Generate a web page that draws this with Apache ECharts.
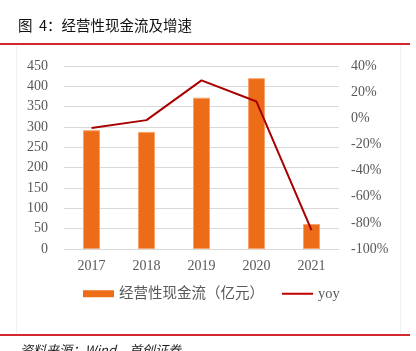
<!DOCTYPE html>
<html>
<head>
<meta charset="utf-8">
<script src="https://cdn.jsdelivr.net/npm/echarts@6/dist/echarts.min.js"></script>
<style>
html, body { margin: 0; padding: 0; background: #fff; }
#chart { width: 416px; height: 351px; }
</style>
</head>
<body>
<div id="chart"></div>
<script>
// 经营性现金流及增速
var years = ['2017', '2018', '2019', '2020', '2021'];
var cashFlow = [292, 288, 372, 420, 61.5];
var yoy = [-0.074, -0.014, 0.29, 0.128, -0.855];
var seriesNames = ['经营性现金流（亿元）', 'yoy'];

var labelFont = {
	color: '#595959',
	fontSize: 14,
	fontFamily: 'Liberation Serif'
};

var chart = echarts.init(document.getElementById('chart'));
chart.setOption({
	animation: false,
	graphic: [{
		type: 'text',
		left: 18,
		top: 18,
		style: {
			text: '图  4：经营性现金流及增速',
			font: '14.5px "Noto Sans CJK SC"',
			fill: '#111'
		}
	}, {
		type: 'rect',
		shape: { x: 0, y: 43, width: 410, height: 2 },
		style: { fill: '#d0282e' }
	}, {
		type: 'rect',
		shape: { x: 16, y: 46, width: 1, height: 288 },
		style: { fill: '#f0f0f0' }
	}, {
		type: 'rect',
		shape: { x: 400, y: 46, width: 1, height: 288 },
		style: { fill: '#f0f0f0' }
	}, {
		type: 'rect',
		shape: { x: 0, y: 334, width: 410, height: 2 },
		style: { fill: '#d0282e' }
	}, {
		type: 'text',
		left: 20,
		top: 344,
		style: {
			text: '资料来源：Wind，首创证券',
			font: 'italic 13px "Noto Sans CJK SC"',
			fill: '#222'
		}
	}],
	legend: {
		data: [{
			name: seriesNames[0],
			icon: 'rect',
			itemStyle: { borderWidth: 0 }
		}, {
			name: seriesNames[1],
			icon: 'path://M0,0h31v2h-31z'
		}],
		bottom: 45,
		left: 78,
		itemWidth: 31,
		itemHeight: 7,
		itemGap: 18,
		textStyle: {
			color: '#595959',
			fontSize: 14.5,
			fontFamily: 'Liberation Serif, Noto Sans CJK SC'
		}
	},
	grid: {
		left: 64,
		right: 77,
		top: 66,
		bottom: 102
	},
	xAxis: [{
		type: 'category',
		data: years,
		axisLine: { lineStyle: { color: '#d9d9d9' } },
		axisTick: { show: false },
		axisLabel: Object.assign({ margin: 10 }, labelFont)
	}],
	yAxis: [{
		type: 'value',
		min: 0,
		max: 450,
		interval: 50,
		axisLine: { show: false },
		axisTick: { show: false },
		axisLabel: Object.assign({ margin: 16 }, labelFont),
		splitLine: { lineStyle: { color: '#d9d9d9' } }
	}, {
		type: 'value',
		min: -1,
		max: 0.4,
		interval: 0.2,
		axisLine: { show: false },
		axisTick: { show: false },
		axisLabel: Object.assign({
			margin: 12,
			formatter: function(v) {
				return Math.round(v * 100) + '%';
			}
		}, labelFont),
		splitLine: { show: false }
	}],
	series: [{
		name: seriesNames[0],
		type: 'bar',
		data: cashFlow,
		barWidth: 17,
		itemStyle: {
			color: '#ec6c17',
			borderColor: '#f5a36a',
			borderWidth: 1
		}
	}, {
		name: seriesNames[1],
		type: 'line',
		yAxisIndex: 1,
		data: yoy,
		symbol: 'none',
		lineStyle: {
			color: '#a80000',
			width: 2
		},
		itemStyle: { color: '#c00000' }
	}]
});
</script>
</body>
</html>
